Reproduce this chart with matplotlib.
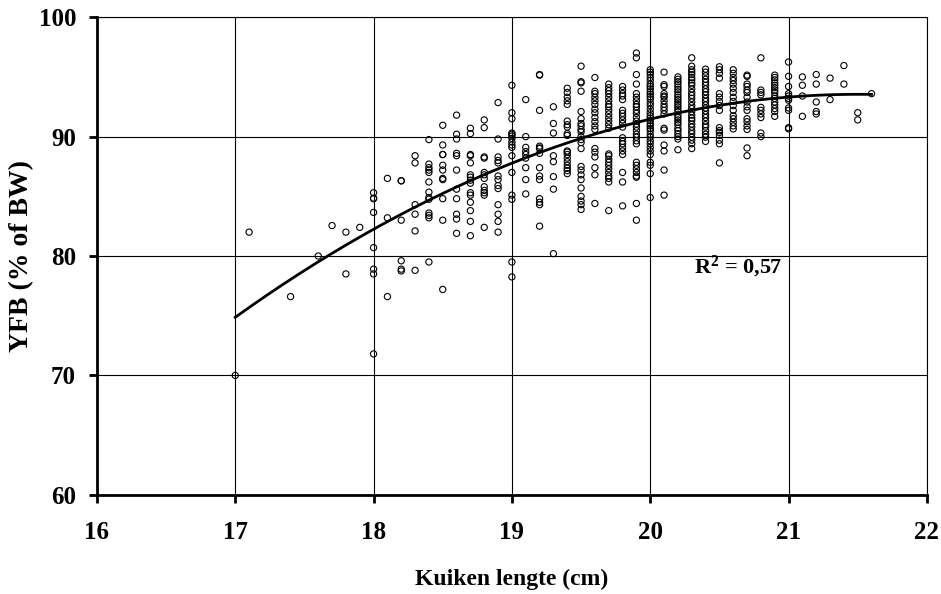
import matplotlib
matplotlib.use('Agg')
import matplotlib.pyplot as plt
import numpy as np

# chick length (cm) -> YFB values read per length class
lengths = [17.0, 17.1, 17.4, 17.6, 17.7, 17.8, 17.9,
           18.0, 18.1, 18.2, 18.3, 18.4, 18.5, 18.6, 18.7, 18.8, 18.9,
           19.0, 19.1, 19.2, 19.3, 19.4, 19.5, 19.6, 19.7, 19.8, 19.9,
           20.0, 20.1, 20.2, 20.3, 20.4, 20.5, 20.6, 20.7, 20.8, 20.9,
           21.0, 21.1, 21.2, 21.3, 21.4, 21.5, 21.6]

yfb = [
    [70.0],
    [82.0],
    [76.6],
    [80.0],
    [82.55],
    [82.0, 78.5],
    [82.4],
    [85.3, 84.85, 84.8, 83.65, 80.7, 78.9, 78.5, 71.8],
    [86.5, 83.2, 76.6],
    [86.3, 86.3, 83.0, 79.6, 78.9, 78.75],
    [88.4, 87.8, 84.3, 83.5, 82.1, 78.8],
    [89.75, 87.7, 87.4, 87.2, 87.0, 86.2, 85.35, 84.9, 84.75, 83.6, 83.4, 83.2, 79.5],
    [90.95, 89.3, 88.5, 88.5, 87.6, 87.2, 86.5, 86.4, 84.8, 83.0, 77.2],
    [91.8, 90.2, 89.8, 88.6, 88.4, 87.2, 85.6, 84.8, 83.5, 83.1, 81.9],
    [90.7, 90.25, 88.5, 88.4, 87.8, 86.8, 86.6, 86.35, 86.1, 85.3, 85.1, 84.5, 83.8, 82.9, 81.7],
    [91.4, 90.75, 88.3, 88.2, 87.0, 86.8, 86.5, 85.8, 85.5, 85.3, 85.1, 82.4],
    [92.85, 89.8, 88.3, 88.0, 87.8, 86.7, 86.4, 85.9, 85.65, 84.3, 83.5, 82.9, 82.0],
    [94.3, 92.0, 91.5, 90.3, 90.2, 90.05, 89.85, 89.55, 89.3, 89.1, 88.4, 87.0, 85.1, 84.75, 79.5, 78.25],
    [93.1, 90.0, 89.1, 88.75, 88.5, 88.2, 87.4, 86.4, 85.2],
    [95.2, 95.15, 92.2, 89.2, 89.05, 89.0, 88.6, 87.4, 86.7, 86.4, 84.8, 84.5, 84.3, 82.5],
    [92.5, 91.1, 90.3, 88.4, 87.9, 86.65, 85.6, 80.2],
    [94.05, 93.7, 93.3, 93.0, 92.7, 91.3, 91.0, 90.8, 90.25, 90.1,
     88.8, 88.7, 88.5, 88.2, 87.9, 87.6, 87.35, 87.15, 86.9],
    [95.9, 94.6, 94.5, 93.8, 92.1, 91.5, 91.1, 90.9, 90.6, 90.4, 90.0, 89.75, 89.5, 89.0,
     87.5, 87.2, 86.8, 86.4, 85.7, 85.0, 84.6, 84.3, 83.9],
    [94.95, 93.8, 93.6, 93.3, 93.0, 92.7, 92.3, 92.0, 91.6, 91.25, 90.9, 90.6,
     89.0, 88.7, 88.3, 87.4, 86.8, 84.4],
    [94.4, 94.1, 93.85, 93.6, 93.3, 93.0, 92.7, 92.5, 92.2, 91.9, 91.6, 91.3, 91.0, 90.7,
     88.55, 88.4, 88.1, 87.85, 87.6, 87.3, 87.0, 86.7, 86.5, 86.2, 83.8],
    [96.0, 94.2, 93.9, 93.6, 93.4, 93.1, 92.2, 91.95, 91.7, 91.4, 91.1, 90.8,
     89.9, 89.6, 89.4, 89.1, 88.8, 88.5, 87.0, 86.2, 84.2],
    [97.0, 96.6, 95.2, 94.4, 93.6, 93.3, 93.0, 92.7, 92.5, 92.2, 91.95, 91.6, 91.3, 91.05,
     90.8, 90.5, 90.2, 89.95, 89.65, 89.4, 87.85, 87.6, 87.3, 87.0, 86.7, 86.6, 84.4, 83.0],
    [95.6, 95.4, 95.2, 94.95, 94.7, 94.4, 94.2, 94.0, 93.75, 93.55, 93.35, 93.15, 92.85, 92.6,
     92.3, 92.0, 91.75, 91.55, 91.35, 91.1, 90.9, 90.7, 90.5, 90.2, 89.95, 89.65, 89.4, 89.1,
     88.8, 88.5, 87.85, 87.6, 86.9, 84.9],
    [95.4, 94.35, 94.2, 93.6, 93.4, 93.3, 93.0, 92.7, 92.45, 92.2, 91.9, 90.7, 90.55,
     89.3, 88.8, 87.2, 85.1],
    [95.0, 94.8, 94.6, 94.4, 94.15, 93.95, 93.75, 93.5, 93.3, 93.1, 92.9, 92.7, 92.5, 92.3,
     92.1, 91.8, 91.6, 91.4, 91.2, 91.0, 90.7, 90.5, 90.25, 90.0, 89.8, 88.9],
    [96.6, 95.9, 95.6, 95.4, 95.2, 94.95, 94.75, 94.5, 94.3, 94.0, 93.7, 93.45, 93.2, 92.9,
     92.6, 92.35, 92.1, 91.8, 91.55, 91.35, 91.05, 90.8, 90.5, 90.25, 89.95, 89.7, 89.4, 89.0],
    [95.65, 95.4, 95.1, 94.8, 94.55, 94.3, 94.0, 93.75, 93.5, 93.2, 92.95, 92.65, 92.4, 92.15,
     91.85, 91.6, 91.3, 91.0, 90.8, 90.5, 90.2, 89.95, 89.6],
    [95.85, 95.6, 95.3, 94.9, 93.6, 93.3, 92.95, 92.6, 92.2, 90.75, 90.5, 90.35, 90.1, 89.7,
     89.4, 87.8],
    [95.6, 95.3, 94.95, 94.7, 94.4, 94.05, 93.7, 93.3, 92.95, 92.6, 92.2, 91.75, 91.5, 91.2,
     90.9, 90.65],
    [95.15, 95.05, 94.4, 94.2, 93.9, 93.7, 93.3, 92.9, 92.5, 92.2, 91.5, 91.25, 90.9, 90.6,
     89.05, 88.4],
    [96.6, 93.9, 93.7, 93.5, 92.45, 92.2, 91.9, 91.6, 90.3, 90.0],
    [95.15, 94.95, 94.75, 94.5, 94.3, 94.1, 93.9, 93.7, 93.4, 93.2, 92.9, 92.65, 92.35, 92.1, 91.7],
    [96.25, 95.05, 94.2, 93.6, 93.4, 93.2, 93.05, 92.4, 92.2, 90.75, 90.65],
    [95.0, 94.3, 93.4, 91.7],
    [95.2, 94.4, 92.9, 92.1, 91.9],
    [94.9, 93.1],
    [95.95, 94.4],
    [92.0, 91.4],
    [93.6],
]

r2_label = 'R$^{2}$ = 0,57'

x = np.concatenate([[l] * len(v) for l, v in zip(lengths, yfb)])
y = np.concatenate(yfb)

plt.rcParams['font.family'] = ['Liberation Serif', 'DejaVu Serif']
plt.rcParams['font.weight'] = 'bold'
plt.rcParams['mathtext.fontset'] = 'custom'
plt.rcParams['mathtext.rm'] = 'Liberation Serif:bold'
plt.rcParams['mathtext.it'] = 'Liberation Serif:bold'
plt.rcParams['mathtext.bf'] = 'Liberation Serif:bold'

fig = plt.figure(figsize=(9.41, 5.94), dpi=100)
ax = fig.add_axes([0.103, 0.167, 0.882, 0.804])

ax.scatter(x, y, s=20, facecolors='none', edgecolors='black', linewidths=0.8, zorder=3)

# 2nd order trend line
coef = np.polyfit(x, y, 2)
xs = np.linspace(x.min(), x.max(), 200)
ax.plot(xs, np.polyval(coef, xs), color='black', lw=2, zorder=4)

ax.text(20.32, 79.1, r2_label, fontsize=16, fontweight='bold', ha='left', va='center')

ax.set_xlim(16, 22)
ax.set_ylim(60, 100)
ax.set_xticks(range(16, 23))
ax.set_yticks(range(60, 101, 10))
ax.grid(True, color='black', lw=0.8)
ax.set_axisbelow(True)
for s in ['top', 'right']:
    ax.spines[s].set_linewidth(0.8)
for s in ['left', 'bottom']:
    ax.spines[s].set_linewidth(2)
ax.tick_params(direction='out', length=6, width=2, labelsize=18)
ax.tick_params(axis='x', pad=13)
ax.tick_params(axis='y', pad=9)
for lab in ax.get_xticklabels() + ax.get_yticklabels():
    lab.set_fontweight('bold')

ax.set_xlabel('Kuiken lengte (cm)', fontsize=17, fontweight='bold', labelpad=18)
ax.set_ylabel('YFB (% of BW)', fontsize=20, fontweight='bold', labelpad=3)

fig.savefig('out.png', dpi=100)
